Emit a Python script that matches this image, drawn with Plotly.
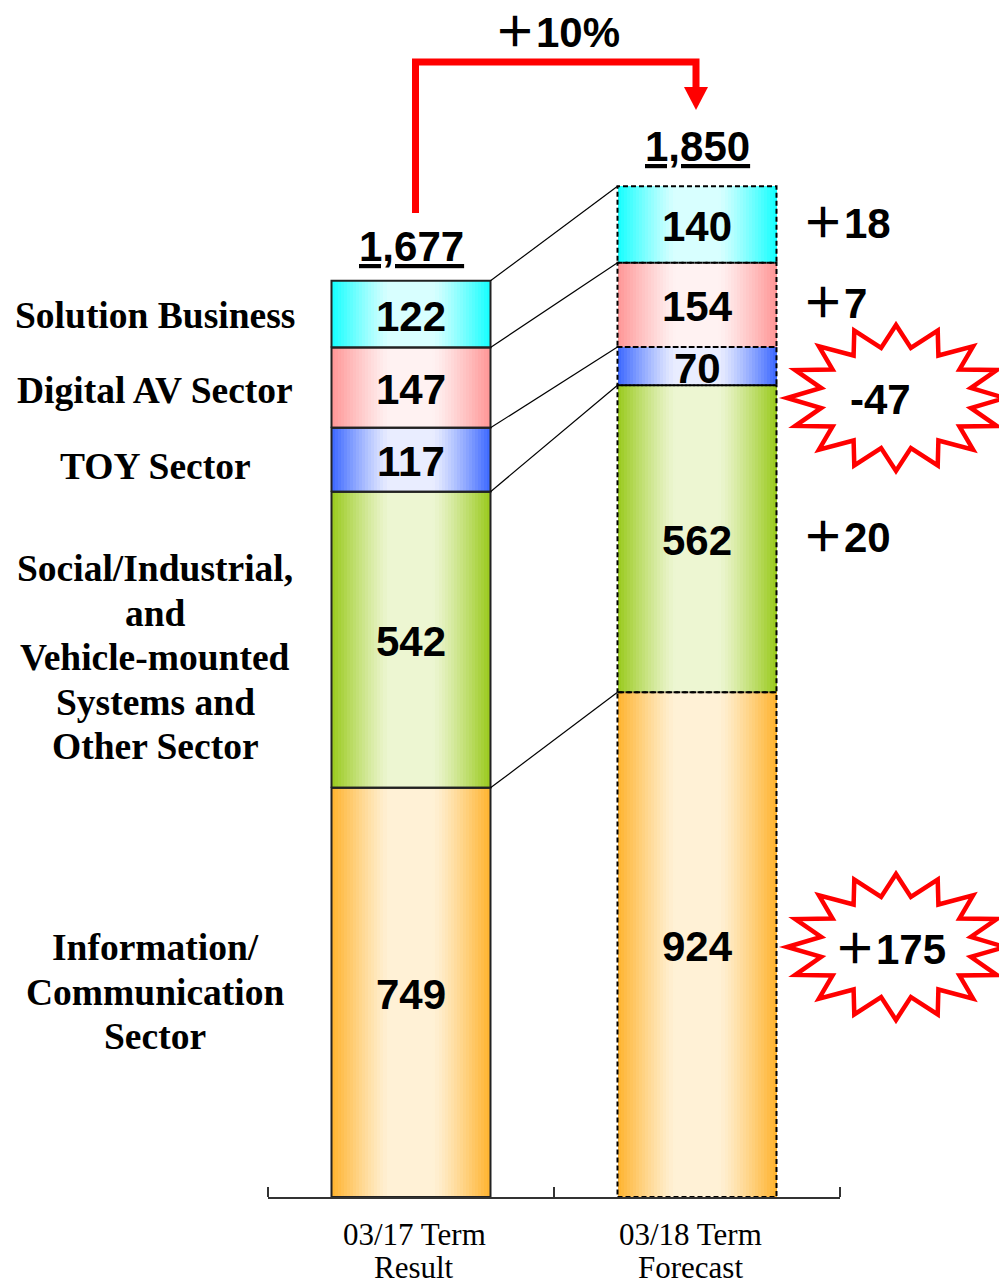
import plotly.graph_objects as go
import numpy as np

# ---------------- data ----------------
terms = ["03/17 Term<br>Result", "03/18 Term<br>Forecast"]
sectors = [
    "Information/<br>Communication<br>Sector",
    "Social/Industrial,<br>and<br>Vehicle-mounted<br>Systems and<br>Other Sector",
    "TOY Sector",
    "Digital AV Sector",
    "Solution Business",
]
result_1703 = [749, 542, 117, 147, 122]
forecast_1803 = [924, 562, 70, 154, 140]
highlight = [True, False, True, False, False]

# ---------------- style ----------------
edge_colors = ["#FFB32E", "#99CA1C", "#3C68FF", "#FF9696", "#14FFFF"]
center_colors = ["#FFF1D6", "#EDF6D2", "#E9EDFF", "#FFF2F2", "#D8FFFF"]

PAGE_OFF = 8                      # default body margin of the html page
W_PX, H_PX = 1007 - PAGE_OFF, 1285 - PAGE_OFF
PLOT_W = 572
ML = 268 - PAGE_OFF
MR = W_PX - ML - PLOT_W
MT = 0
PLOT_H = 1197 - PAGE_OFF
MB = H_PX - PLOT_H
YMAX = PLOT_H / 0.5463
BAR_W = 159 / 286.0

NUM_FONT = "Liberation Sans, Arial, Noto Sans CJK JP"
SERIF = "Liberation Serif, Times New Roman, serif"


def px_x(px):
    # page pixel -> paper x
    return (px - PAGE_OFF - ML) / PLOT_W


def px_y(py):
    # page pixel -> paper y
    return (PAGE_OFF + MT + PLOT_H - py) / PLOT_H


def hex2rgb(h):
    h = h.lstrip("#")
    return np.array([int(h[i:i + 2], 16) for i in (0, 2, 4)], dtype=float)


def mix(c_light, c_dark, f):
    a, b = hex2rgb(c_light), hex2rgb(c_dark)
    c = a + (b - a) * f
    return "rgb(%d,%d,%d)" % tuple(np.round(c).astype(int))


series = [result_1703, forecast_1803]
n_seg = len(sectors)
xs, vals, bases = [], [], []
for i, s in enumerate(series):
    cum = np.concatenate([[0], np.cumsum(s)[:-1]])
    for j in range(n_seg):
        xs.append(i)
        vals.append(s[j])
        bases.append(cum[j])

fig = go.Figure()

# gradient bars: overlay of narrowing bars
N = 26
for k in range(N):
    t = 1 - (k + 0.5) / N
    f = float(np.clip((t - 0.28) / 0.72, 0, 1)) ** 1.15
    cols = [mix(center_colors[j % n_seg], edge_colors[j % n_seg], f) for j in range(len(xs))]
    fig.add_trace(go.Bar(
        x=xs, y=vals, base=bases, width=BAR_W * (1 - k / N),
        marker=dict(color=cols, line=dict(width=0)),
        hoverinfo="skip", showlegend=False,
    ))

# borders
for i, dash, col in [(0, "solid", "#222222"), (1, "5px,3px", "#000000")]:
    bx, by = [], []
    for j in range(len(xs)):
        if xs[j] != i:
            continue
        x0, x1 = i - BAR_W / 2, i + BAR_W / 2
        y0, y1 = bases[j], bases[j] + vals[j]
        bx += [x0, x1, x1, x0, x0, None]
        by += [y0, y0, y1, y1, y0, None]
    fig.add_trace(go.Scatter(x=bx, y=by, mode="lines",
                             line=dict(color=col, width=2, dash=dash),
                             hoverinfo="skip", showlegend=False))

# connector lines between segment tops
cumL = np.cumsum(result_1703)
cumR = np.cumsum(forecast_1803)
cx, cy = [], []
for a, b in zip(cumL, cumR):
    cx += [0 + BAR_W / 2, 1 - BAR_W / 2, None]
    cy += [a, b, None]
fig.add_trace(go.Scatter(x=cx, y=cy, mode="lines",
                         line=dict(color="#000000", width=1.2),
                         hoverinfo="skip", showlegend=False))

annotations = []
# values inside bars
for j in range(len(xs)):
    annotations.append(dict(
        x=xs[j], y=bases[j] + vals[j] / 2, xref="x", yref="y",
        text="<b>%d</b>" % vals[j], showarrow=False, yshift=-2,
        xanchor="center", yanchor="middle",
        font=dict(family=NUM_FONT, size=42, color="#000000"),
    ))

# totals
totals = [sum(result_1703), sum(forecast_1803)]
total_shift = [34, 40]
for i, tot in enumerate(totals):
    annotations.append(dict(
        x=i, y=tot, xref="x", yref="y", text="<b><u>{:,}</u></b>".format(tot),
        showarrow=False, yshift=total_shift[i], xanchor="center", yanchor="middle",
        font=dict(family=NUM_FONT, size=42, color="#000000"),
    ))

# growth rate
growth = round((totals[1] / totals[0] - 1) * 100)
annotations.append(dict(
    x=px_x(557), y=px_y(33), xref="paper", yref="paper",
    text="<b>＋%d%%</b>" % growth, showarrow=False,
    xanchor="center", yanchor="middle",
    font=dict(family=NUM_FONT, size=42, color="#000000"),
))

# term labels under the axis
term_x_shift = [3, -7]
for i, term in enumerate(terms):
    for li, line in enumerate(term.split("<br>")):
        annotations.append(dict(
            x=i, y=px_y(1234 + li * 33), xref="x", yref="paper",
            text=line, showarrow=False, xanchor="center", yanchor="middle",
            xshift=term_x_shift[i],
            font=dict(family=SERIF, size=31, color="#000000"),
        ))

# sector labels on the left
label_y_px = [992, 657.5, 467, 391, 316]
for name, cy_px in zip(sectors, label_y_px):
    lines = name.split("<br>")
    n = len(lines)
    for li, line in enumerate(lines):
        yy = cy_px + (li - (n - 1) / 2) * 44.5
        annotations.append(dict(
            x=px_x(155), y=px_y(yy), xref="paper", yref="paper",
            text="<b>%s</b>" % line, showarrow=False,
            xanchor="center", yanchor="middle",
            font=dict(family=SERIF, size=37.5, color="#000000"),
        ))

# changes
shapes = []
star_center_px = {0: (896, 947), 2: (896, 398)}
star_text_dx = {0: -6, 2: -16}
cumR0 = np.concatenate([[0], cumR[:-1]])
for j in range(n_seg):
    d = forecast_1803[j] - result_1703[j]
    txt = ("＋%d" % d) if d >= 0 else ("-%d" % abs(d))
    if highlight[j]:
        sx, sy = star_center_px[j]
        pts = []
        npts = 16
        rx, ry, ratio = 109, 73, 0.70
        for m in range(2 * npts):
            ang = np.pi / 2 + m * np.pi / npts
            r = 1.0 if m % 2 == 0 else ratio
            pts.append((px_x(sx + rx * r * np.cos(ang)), px_y(sy - ry * r * np.sin(ang))))
        path = "M " + " L ".join("%.5f,%.5f" % p for p in pts) + " Z"
        shapes.append(dict(type="path", xref="paper", yref="paper", path=path,
                           fillcolor="#FFFFFF", line=dict(color="#FF0000", width=4.5)))
        annotations.append(dict(
            x=px_x(sx + star_text_dx[j]), y=px_y(sy + 2), xref="paper", yref="paper",
            text="<b>%s</b>" % txt, showarrow=False,
            xanchor="center", yanchor="middle",
            font=dict(family=NUM_FONT, size=42, color="#000000"),
        ))
    else:
        annotations.append(dict(
            x=px_x(800), y=cumR0[j] + forecast_1803[j] / 2, xref="paper", yref="y",
            text="<b>%s</b>" % txt, showarrow=False, xanchor="left", yanchor="middle",
            yshift=1,
            font=dict(family=NUM_FONT, size=42, color="#000000"),
        ))

# red bent arrow
arrow_path = "M %.5f,%.5f L %.5f,%.5f L %.5f,%.5f L %.5f,%.5f" % (
    px_x(415.5), px_y(213), px_x(415.5), px_y(62), px_x(696), px_y(62), px_x(696), px_y(90))
shapes.append(dict(type="path", xref="paper", yref="paper", path=arrow_path,
                   line=dict(color="#FF0000", width=7), fillcolor="rgba(0,0,0,0)"))
head = "M %.5f,%.5f L %.5f,%.5f L %.5f,%.5f Z" % (
    px_x(684), px_y(87), px_x(708), px_y(87), px_x(696), px_y(110))
shapes.append(dict(type="path", xref="paper", yref="paper", path=head,
                   fillcolor="#FF0000", line=dict(color="#FF0000", width=0)))

fig.update_layout(
    width=W_PX, height=H_PX,
    margin=dict(l=ML, r=MR, t=MT, b=MB, pad=0),
    paper_bgcolor="#FFFFFF", plot_bgcolor="#FFFFFF",
    barmode="overlay", bargap=0,
    showlegend=False,
    annotations=annotations, shapes=shapes,
    xaxis=dict(
        range=[-0.5, 1.5], tickmode="array", tickvals=[0, 1], ticktext=["", ""],
        showticklabels=False,
        ticks="", showline=True, linecolor="#333333", linewidth=1.5,
        showgrid=False, zeroline=False, fixedrange=True,
        minor=dict(tickmode="array", tickvals=[-0.5, 0.5, 1.5], ticks="inside",
                   ticklen=10, tickcolor="#333333", tickwidth=1.5, showgrid=False),
    ),
    yaxis=dict(range=[0, YMAX], visible=False, showgrid=False, zeroline=False, fixedrange=True),
)

fig.write_html("out.html")
